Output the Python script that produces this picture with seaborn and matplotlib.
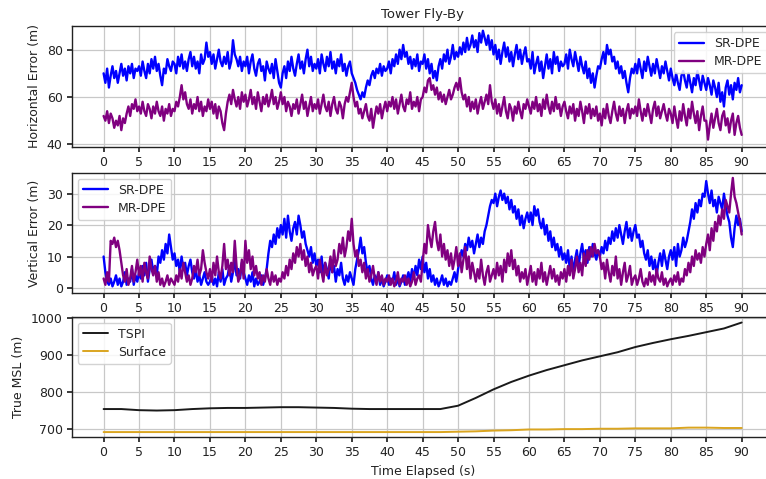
import numpy as np
import pandas as pd
import matplotlib
matplotlib.use("Agg")
import matplotlib.pyplot as plt
import seaborn as sns

# ---------------- data ----------------
dt_fine = 0.25   # s, sampling of the noisy error series
dt_coarse = 2.5  # s, sampling of the altitude series

h_sr = [
    70,66,72,64,69,73,68,71,66,70,74,69,72,67,73,70,74,68,72,71,
    73,69,75,71,68,74,70,76,72,77,71,74,69,65,72,70,76,73,71,75,
    74,70,77,73,78,72,75,71,76,79,73,77,72,75,70,78,74,76,83,77,
    79,74,78,72,76,80,75,73,77,74,79,72,75,84,78,76,73,77,71,75,
    73,77,70,75,78,72,69,74,76,71,73,67,75,72,70,74,68,76,71,66,
    64,70,73,68,75,71,77,72,69,74,78,72,75,70,76,80,73,77,71,74,
    72,76,70,78,74,71,77,73,79,72,75,70,76,73,78,71,74,69,73,75,
    70,68,66,63,61,59,62,60,64,67,65,69,71,68,72,70,74,69,73,71,
    72,75,70,76,73,78,74,80,76,82,77,79,74,77,72,76,73,78,71,75,
    74,78,72,76,70,74,68,71,67,73,76,72,78,75,80,74,77,82,76,79,
    77,81,78,83,79,85,80,82,86,81,84,79,87,83,88,85,82,86,80,84,
    78,82,76,80,74,79,83,77,81,75,79,73,78,82,76,80,74,78,81,75,
    76,72,79,70,74,77,71,75,68,73,78,72,76,70,79,74,77,71,75,73,
    74,78,72,80,76,73,79,75,71,77,73,70,75,68,72,66,70,64,69,73,
    72,76,79,74,82,78,80,75,77,72,75,70,73,68,71,66,62,68,72,70,
    74,70,76,72,68,75,71,77,73,69,74,70,76,72,68,73,70,75,71,67,
    72,68,65,70,66,63,69,71,67,64,70,66,62,68,65,71,67,63,69,66,
    63,68,65,61,67,64,60,66,58,62,56,64,67,61,65,59,66,63,68,62,
    65,
]

h_mr = [
    52,50,54,49,53,51,47,50,48,52,46,51,49,53,56,52,57,55,59,54,
    56,53,58,54,52,57,55,51,56,53,58,54,52,56,50,55,53,57,52,55,
    54,58,56,60,65,59,62,57,55,59,53,57,55,60,54,58,52,56,54,59,
    55,58,53,57,51,56,54,49,46,53,58,61,57,63,59,56,60,55,62,58,
    61,56,59,63,57,60,55,62,58,54,60,57,61,56,59,63,57,60,55,58,
    62,57,60,54,58,56,52,57,55,59,53,57,61,55,58,52,56,60,54,57,
    55,59,53,57,61,56,54,58,52,57,60,55,53,58,56,51,57,60,58,62,
    66,60,56,58,53,55,51,54,57,52,50,55,47,52,56,53,57,51,55,58,
    54,58,56,60,55,59,53,57,61,56,54,59,57,62,55,58,56,60,54,59,
    60,64,62,67,68,63,65,61,64,59,62,58,61,57,60,63,59,61,64,66,
    63,68,62,59,61,56,60,54,58,55,59,53,57,60,55,58,61,57,65,58,
    55,59,53,57,52,56,60,54,51,57,55,50,56,53,58,54,51,57,55,59,
    56,53,58,55,60,54,57,52,59,55,61,56,53,58,54,60,55,57,52,56,
    58,54,51,56,53,57,50,55,52,58,54,49,56,53,57,51,55,52,56,50,
    53,48,55,51,57,52,49,54,58,53,50,56,52,55,49,54,57,51,55,53,
    56,52,59,54,50,55,52,57,53,49,55,58,52,56,51,54,57,53,50,55,
    53,49,56,51,47,54,50,57,52,48,55,51,58,53,49,54,46,52,56,50,
    50,42,48,53,47,51,55,49,46,52,54,48,51,45,50,53,44,49,52,47,
    44,
]

v_sr = [
    10,5,2,1,3,0.5,2,4,1,3,0.5,2,5,1,3,2,6,1,4,2,
    5,3,7,4,8,2,6,9,5,7,4,10,8,12,9,14,11,17,13,9,
    11,7,9,5,10,6,8,4,7,9,5,3,6,2,4,1,3,5,2,1,
    2,4,1,3,0.5,5,2,6,1,3,4,7,2,5,9,4,6,3,8,5,
    3,1,4,2,5,0.5,3,1,2,4,1,3,6,11,15,13,17,14,19,16,
    20,17,22,16,23,18,15,19,21,17,23,20,16,18,14,12,10,13,8,11,
    7,9,5,10,4,8,6,3,9,5,7,2,6,4,8,3,1,4,2,5,
    3,1,6,9,12,16,11,13,8,5,7,3,1,4,2,5,1,3,0.5,2,
    4,1,3,2,5,1,3,0.5,2,4,1,3,5,2,6,3,7,4,9,6,
    10,5,8,3,6,2,4,1,3,0.5,2,4,1,3,0.5,2,1,3,5,2,
    6,9,12,10,14,12,16,13,15,11,14,17,13,16,14,18,20,23,26,28,
    27,30,26,29,31,28,30,27,29,25,28,24,26,22,25,20,23,19,22,24,
    21,24,20,26,23,25,21,19,22,17,20,15,18,13,16,12,14,10,13,9,
    11,8,12,6,10,5,9,12,7,11,14,9,12,8,13,10,14,11,9,12,
    10,13,11,15,12,16,14,18,15,19,16,20,17,14,18,21,16,19,15,18,
    20,16,17,13,15,11,9,12,7,10,6,9,4,8,11,7,12,9,6,10,
    12,9,13,7,14,10,12,16,13,15,18,21,25,22,27,24,28,26,30,29,
    34,30,27,31,26,28,24,29,27,25,30,26,23,21,16,13,19,23,20,22,
    18,
]

v_mr = [
    3,1,5,2,15,14,16,13,15,12,8,4,2,6,1,3,7,2,5,9,
    4,7,2,8,5,3,10,6,4,7,2,5,1,3,0.5,2,4,1,3,2,
    1,4,2,6,3,8,5,2,4,1,3,7,5,9,4,6,12,8,5,3,
    6,2,8,4,10,5,3,7,14,6,9,4,8,5,15,7,2,4,9,3,
    15,8,12,6,10,4,7,3,5,1,4,2,6,3,1,5,2,4,1,3,
    2,5,3,7,4,9,6,11,8,13,10,14,9,12,7,10,5,8,4,6,
    7,3,9,5,2,8,4,6,10,5,12,7,9,14,11,16,10,13,18,15,
    22,14,10,12,7,9,5,8,3,6,2,4,7,3,1,5,2,4,1,3,
    2,4,1,3,0.5,2,5,1,3,2,4,1,3,0.5,2,5,1,3,4,2,
    8,14,11,20,16,13,18,21,15,12,17,10,14,9,12,7,11,6,9,13,
    7,11,5,9,13,6,10,3,8,5,2,6,3,9,4,1,5,7,2,4,
    6,3,8,4,7,2,9,5,11,7,12,6,9,4,7,2,5,3,6,1,
    4,7,2,5,1,6,3,8,2,5,1,4,7,3,6,2,4,1,5,3,
    6,2,7,4,9,3,6,10,5,8,4,11,7,12,9,13,10,14,11,12,
    10,6,8,3,9,5,2,7,4,10,3,6,1,5,8,2,4,7,1,3,
    4,1,3,6,2,0.5,3,1,5,2,4,1,6,3,2,5,1,3,0.5,2,
    3,1,4,2,5,1,3,2,6,4,8,5,10,7,12,9,11,8,13,10,
    14,17,12,19,15,21,18,23,20,25,22,28,26,24,30,35,29,27,24,21,
    17,
]

tspi = [755,755,752,751,752,755,757,758,758,759,760,760,759,758,756,755,
        755,755,755,755,764,785,808,828,845,860,873,886,897,908,922,933,
        943,952,962,972,988]
surface = [693,693,693,693,693,693,693,693,693,693,693,693,693,693,693,693,
           693,693,693,693,694,695,697,698,700,700,701,701,702,702,703,703,
           703,705,705,704,704]

xticks = list(range(0, 95, 5))
yticks_h = [40, 60, 80]
yticks_v = [0, 10, 20, 30]
yticks_a = [700, 800, 900, 1000]

t_fine = np.arange(len(h_sr)) * dt_fine
t_coarse = np.arange(len(tspi)) * dt_coarse

# ---------------- style ----------------
sns.set_theme(style="whitegrid")
plt.rcParams.update({
    "font.family": ["DejaVu Sans"],
    "axes.edgecolor": "#222222",
    "axes.linewidth": 1.0,
    "grid.color": "#c8c8c8",
    "grid.linewidth": 0.9,
    "xtick.bottom": True,
    "ytick.left": True,
    "xtick.major.size": 3.5,
    "ytick.major.size": 3.5,
    "xtick.color": "#222222",
    "ytick.color": "#222222",
    "xtick.labelsize": 9,
    "ytick.labelsize": 9,
    "axes.labelsize": 9,
    "axes.labelcolor": "#222222",
    "legend.fontsize": 9,
})

fig = plt.figure(figsize=(7.66, 4.79), dpi=100)
left, width, h = 0.0936, 0.9163, 0.252
ax1 = fig.add_axes([left, 0.6937, width, h])
ax2 = fig.add_axes([left, 0.3877, width, h])
ax3 = fig.add_axes([left, 0.0871, width, h])

lw = 1.7
sns.lineplot(x=t_fine, y=h_sr, ax=ax1, color="blue", linewidth=lw, label="SR-DPE")
sns.lineplot(x=t_fine, y=h_mr, ax=ax1, color="purple", linewidth=lw, label="MR-DPE")
sns.lineplot(x=t_fine, y=v_sr, ax=ax2, color="blue", linewidth=lw, label="SR-DPE")
sns.lineplot(x=t_fine, y=v_mr, ax=ax2, color="purple", linewidth=lw, label="MR-DPE")
sns.lineplot(x=t_coarse, y=tspi, ax=ax3, color="#1a1a1a", linewidth=1.4, label="TSPI")
sns.lineplot(x=t_coarse, y=surface, ax=ax3, color="goldenrod", linewidth=1.4, label="Surface")

for ax, yt, yl in [(ax1, yticks_h, "Horizontal Error (m)"),
                   (ax2, yticks_v, "Vertical Error (m)"),
                   (ax3, yticks_a, "True MSL (m)")]:
    ax.set_xticks(xticks)
    ax.set_yticks(yt)
    ax.set_xlim(-4.5, 94.5)
    ax.set_ylabel(yl)
    ax.set_xlabel("")
    ax.grid(True)
    for s in ax.spines.values():
        s.set_visible(True)
        s.set_color("#222222")
    ax.tick_params(axis="both", pad=3)

ax1.set_ylim(39, 90)
ax2.set_ylim(-1.7, 36.7)
ax3.set_ylim(679, 1004)

ax3.set_xlabel("Time Elapsed (s)")
ax1.set_title("Tower Fly-By", fontsize=9.5, color="#222222")

leg_kw = dict(frameon=True, edgecolor="#cccccc", framealpha=0.85, fancybox=True,
              handlelength=2.0, borderpad=0.4, labelspacing=0.4)
ax1.legend(loc="upper right", **leg_kw)
ax2.legend(loc="upper left", **leg_kw)
ax3.legend(loc="upper left", **leg_kw)

fig.savefig("out.png", dpi=100)
